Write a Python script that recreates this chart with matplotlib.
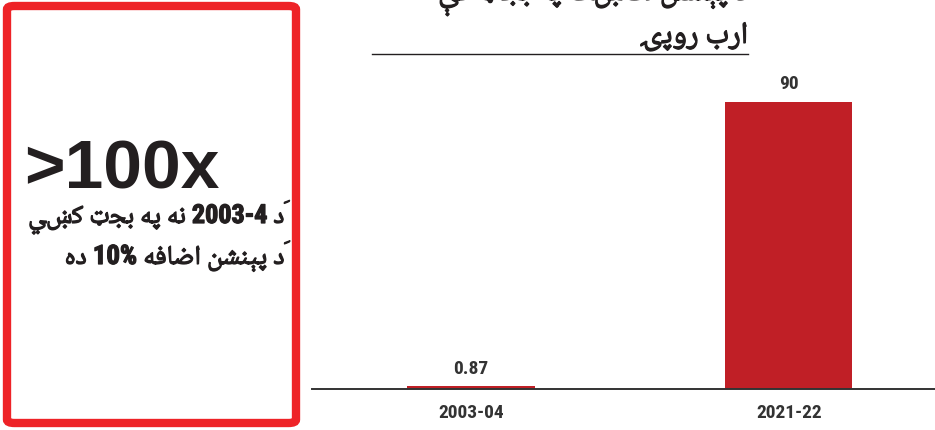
import matplotlib
matplotlib.use('Agg')
import matplotlib.pyplot as plt
import matplotlib.patheffects as pe
from matplotlib.patches import FancyBboxPatch
from matplotlib.lines import Line2D

# ---------------- data ----------------
categories = ['2003-04', '2021-22']
values = [0.87, 90]
value_labels = ['0.87', '90']
big_number = '>100x'
box_line1 = 'دَ 2003-4 نه په بجټ کښي'
box_line2 = 'دَ پېنشن اضافه 10% ده'
unit_title = 'ارب روپۍ'
top_title = 'د پېنشن لګښت په بجټ کې'

# ---------------- minimal Arabic shaping (presentation forms) ----------------
DUAL = {
    '\u0628': (0xFE8F, 0xFE90, 0xFE91, 0xFE92), '\u062A': (0xFE95, 0xFE96, 0xFE97, 0xFE98),
    '\u062C': (0xFE9D, 0xFE9E, 0xFE9F, 0xFEA0), '\u0634': (0xFEB5, 0xFEB6, 0xFEB7, 0xFEB8),
    '\u0636': (0xFEBD, 0xFEBE, 0xFEBF, 0xFEC0), '\u0641': (0xFED1, 0xFED2, 0xFED3, 0xFED4),
    '\u0644': (0xFEDD, 0xFEDE, 0xFEDF, 0xFEE0), '\u0646': (0xFEE5, 0xFEE6, 0xFEE7, 0xFEE8),
    '\u0647': (0xFEE9, 0xFEEA, 0xFEEB, 0xFEEC), '\u064A': (0xFEF1, 0xFEF2, 0xFEF3, 0xFEF4),
    '\u06CC': (0xFBFC, 0xFBFD, 0xFBFE, 0xFBFF), '\u067E': (0xFB56, 0xFB57, 0xFB58, 0xFB59),
    '\u06A9': (0xFB8E, 0xFB8F, 0xFB90, 0xFB91), '\u06D0': (0xFBE4, 0xFBE5, 0xFBE6, 0xFBE7),
    '\u0633': (0xFEB1, 0xFEB2, 0xFEB3, 0xFEB4), '\u0645': (0xFEE1, 0xFEE2, 0xFEE3, 0xFEE4),
    '\u0639': (0xFEC9, 0xFECA, 0xFECB, 0xFECC), '\u0642': (0xFED5, 0xFED6, 0xFED7, 0xFED8),
    '\u067C': None, '\u069A': None, '\u06AB': None,
}
RIGHT = {
    '\u0627': (0xFE8D, 0xFE8E), '\u062F': (0xFEA9, 0xFEAA), '\u0631': (0xFEAD, 0xFEAE),
    '\u0632': (0xFEAF, 0xFEB0), '\u0648': (0xFEED, 0xFEEE), '\u06CD': None, '\u0689': None,
}
MARKS = {'\u064E', '\u064F', '\u0650', '\u0651', '\u0652'}


def is_arabic(ch):
    return '\u0600' <= ch <= '\u06FF' or '\uFB50' <= ch <= '\uFEFF'


def shape_word(w):
    clusters = []
    for ch in w:
        if ch in MARKS and clusters:
            clusters[-1] += ch
        else:
            clusters.append(ch)
    out = []
    n = len(clusters)
    for i, cl in enumerate(clusters):
        b = cl[0]
        prev = clusters[i - 1][0] if i > 0 else None
        nxt = clusters[i + 1][0] if i < n - 1 else None
        jp = prev is not None and prev in DUAL
        jn = nxt is not None and (nxt in DUAL or nxt in RIGHT)
        if b in DUAL:
            f = DUAL[b]
            if f is None:
                g = b
            else:
                idx = 3 if (jp and jn) else 1 if jp else 2 if jn else 0
                g = chr(f[idx])
        elif b in RIGHT:
            f = RIGHT[b]
            g = b if f is None else chr(f[1] if jp else f[0])
        else:
            g = b
        out.append(g + cl[1:])
    return ''.join(out[::-1])


def rtl(line):
    toks = []
    for w in line.split(' '):
        toks.append(shape_word(w) if any(is_arabic(c) for c in w) else w)
    return ' '.join(toks[::-1])


# ---------------- figure ----------------
W, H = 935, 431
fig = plt.figure(figsize=(W / 100, H / 100), dpi=100)


def fx(x):
    return x / W


def fy(y):
    return 1 - y / H


DARK = '#231f20'
RED_BAR = '#c01f26'
RED_BOX = '#ee2327'
LATIN_C = ['Roboto Condensed', 'Liberation Sans Narrow', 'Arial Narrow', 'DejaVu Sans']
ARAB = ['Noto Naskh Arabic', 'Noto Sans Arabic', 'DejaVu Sans']
BOLDEN = [pe.withStroke(linewidth=0.9, foreground=DARK)]

# red framed box
box = FancyBboxPatch((fx(7), fy(424)), fx(289), 417 / H,
                     boxstyle='round,pad=0,rounding_size=0.008',
                     transform=fig.transFigure, facecolor='white',
                     edgecolor=RED_BOX, linewidth=6.0, zorder=1)
fig.patches.append(box)

fig.text(fx(24), fy(189), big_number, family=['Liberation Sans', 'Arial', 'DejaVu Sans'],
         fontsize=50, fontweight='bold', color=DARK, ha='left', va='baseline')
fig.text(fx(284), fy(224), rtl(box_line1), family=['Roboto Condensed'] + ARAB,
         fontsize=18.8, fontweight='bold', color=DARK, ha='right', va='baseline',
         path_effects=BOLDEN)
fig.text(fx(284), fy(265), rtl(box_line2), family=['Roboto Condensed'] + ARAB,
         fontsize=19.3, fontweight='bold', color=DARK, ha='right', va='baseline',
         path_effects=BOLDEN)

# titles at top right
fig.text(fx(748), fy(1), rtl(top_title), family=ARAB, fontsize=22, fontweight='bold',
         color=DARK, ha='right', va='baseline', path_effects=BOLDEN)
fig.text(fx(748), fy(44), rtl(unit_title), family=ARAB, fontsize=22, fontweight='bold',
         color=DARK, ha='right', va='baseline', path_effects=BOLDEN)
fig.lines.append(Line2D([fx(372), fx(748)], [fy(55), fy(55)], transform=fig.transFigure,
                        color=DARK, linewidth=1.0))

# bar chart
ax = fig.add_axes([fx(312), fy(390), fx(623), (390 - 103) / H])
x = list(range(len(categories)))
bars = ax.bar(x, values, width=0.40, color=RED_BAR, zorder=2)
ax.set_xlim(-0.5, 1.46)
ax.set_ylim(0, 90)
for xi, v, lab in zip(x, values, value_labels):
    ax.annotate(lab, (xi, v), xytext=(0, 7), textcoords='offset points', ha='center',
                va='bottom', family=LATIN_C, fontsize=14, fontweight='bold', color='#333333')
ax.set_xticks(x)
ax.set_xticklabels(categories, family=LATIN_C, fontsize=14, fontweight='bold', color='#333333')
ax.tick_params(axis='x', length=0, pad=10)
ax.set_yticks([])
for s in ['top', 'left', 'right']:
    ax.spines[s].set_visible(False)
ax.spines['bottom'].set_color('#333333')
ax.spines['bottom'].set_linewidth(1.4)
ax.patch.set_alpha(0)

fig.savefig('out.png', dpi=100)
